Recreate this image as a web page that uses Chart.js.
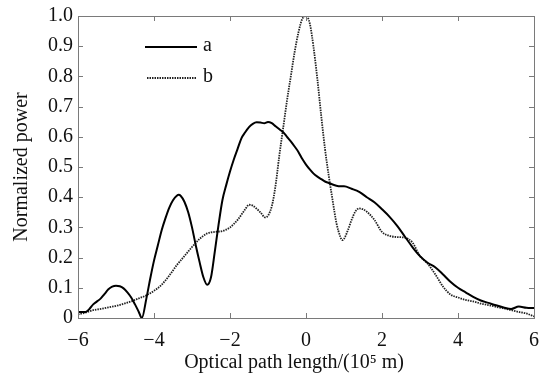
<!DOCTYPE html>
<html>
<head>
<meta charset="utf-8">
<script src="https://cdn.jsdelivr.net/npm/chart.js@4"></script>
<style>
  html, body { margin: 0; padding: 0; background: #fff; }
  #wrap { width: 547px; height: 377px; }
</style>
</head>
<body>
<div id="wrap"><canvas id="chart" width="547" height="377"></canvas></div>
<script>
// curve a (solid)
const aX = [-6.0, -5.8, -5.7, -5.6, -5.5, -5.4, -5.3, -5.2, -5.1, -5.0, -4.9, -4.8, -4.7, -4.6, -4.5, -4.4, -4.32,
  -4.2, -4.1, -4.0, -3.9, -3.8, -3.7, -3.6, -3.5, -3.4, -3.35, -3.3, -3.2, -3.1, -3.0, -2.9, -2.8, -2.7, -2.6,
  -2.5, -2.4, -2.3, -2.2, -2.1, -2.0, -1.9, -1.8, -1.7, -1.6, -1.5, -1.4, -1.3, -1.2, -1.1, -1.0, -0.9, -0.8,
  -0.7, -0.6, -0.5, -0.4, -0.3, -0.2, -0.1, 0.0, 0.1, 0.2, 0.3, 0.4, 0.5, 0.6, 0.7, 0.8, 0.9, 1.0, 1.2, 1.4,
  1.6, 1.8, 2.0, 2.2, 2.4, 2.6, 2.8, 3.0, 3.2, 3.4, 3.6, 3.8, 4.0, 4.2, 4.4, 4.6, 4.8, 5.0, 5.2, 5.4, 5.6, 5.8, 6.0];
const aY = [0.02, 0.02, 0.03, 0.045, 0.055, 0.065, 0.08, 0.095, 0.104, 0.107, 0.105, 0.098, 0.085, 0.068, 0.045, 0.02, 0.0,
  0.065, 0.13, 0.19, 0.24, 0.29, 0.33, 0.365, 0.39, 0.405, 0.408, 0.405, 0.385, 0.35, 0.30, 0.24, 0.185, 0.135, 0.11,
  0.135, 0.22, 0.31, 0.39, 0.44, 0.485, 0.525, 0.56, 0.595, 0.615, 0.632, 0.643, 0.648, 0.647, 0.645, 0.649, 0.645, 0.635,
  0.625, 0.615, 0.6, 0.585, 0.568, 0.55, 0.527, 0.508, 0.492, 0.478, 0.468, 0.46, 0.452, 0.447, 0.442, 0.438, 0.436, 0.436, 0.428, 0.418,
  0.4, 0.383, 0.36, 0.335, 0.305, 0.27, 0.235, 0.205, 0.183, 0.168, 0.145, 0.12, 0.1, 0.085, 0.07, 0.058, 0.05, 0.042, 0.035, 0.03, 0.038, 0.034, 0.033];

// curve b (dotted)
const bX = [-6.0, -5.8, -5.6, -5.4, -5.2, -5.0, -4.8, -4.6, -4.4, -4.2, -4.0, -3.8, -3.6, -3.4, -3.2, -3.0, -2.8, -2.6,
  -2.4, -2.2, -2.0, -1.8, -1.6, -1.5, -1.4, -1.3, -1.2, -1.07, -0.9, -0.8, -0.7, -0.6, -0.5, -0.4, -0.3, -0.2, -0.1, 0.0,
  0.1, 0.2, 0.3, 0.4, 0.5, 0.6, 0.7, 0.8, 0.9, 0.95, 1.0, 1.1, 1.2, 1.3, 1.4, 1.5, 1.6, 1.8, 2.0, 2.2, 2.4, 2.6, 2.8,
  3.0, 3.2, 3.4, 3.6, 3.8, 4.0, 4.2, 4.4, 4.6, 4.8, 5.0, 5.2, 5.4, 5.6, 5.8, 6.0];
const bY = [0.012, 0.018, 0.026, 0.03, 0.035, 0.04, 0.047, 0.055, 0.065, 0.075, 0.09, 0.11, 0.14, 0.175, 0.205, 0.235, 0.262, 0.28,
  0.285, 0.288, 0.30, 0.325, 0.36, 0.375, 0.372, 0.362, 0.35, 0.333, 0.37, 0.44, 0.54, 0.63, 0.72, 0.80, 0.88, 0.945, 0.99, 1.0,
  0.975, 0.895, 0.79, 0.67, 0.56, 0.47, 0.39, 0.315, 0.27, 0.258, 0.262, 0.29, 0.325, 0.353, 0.363, 0.36, 0.352, 0.325, 0.285, 0.272, 0.268, 0.266, 0.25,
  0.205, 0.18, 0.145, 0.105, 0.078, 0.068, 0.06, 0.055, 0.048, 0.043, 0.037, 0.032, 0.026, 0.02, 0.015, 0.005];

const xTicks = [-6, -4, -2, 0, 2, 4, 6];
const yTicks = [0, 0.1, 0.2, 0.3, 0.4, 0.5, 0.6, 0.7, 0.8, 0.9, 1.0];
const seriesNames = ['a', 'b'];
const xTitle = 'Optical path length/(10\u2075 m)';

const FONT = "'Liberation Serif', 'Times New Roman', serif";
const toPts = (xs, ys) => xs.map((x, i) => ({ x, y: ys[i] }));

// frame + inward ticks on all four sides
const framePlugin = {
  id: 'frame',
  afterDatasetsDraw(chart) {
    const { ctx, chartArea: ca, scales } = chart;
    ctx.save();
    ctx.strokeStyle = '#7a7a7a';
    ctx.lineWidth = 1;
    ctx.strokeRect(ca.left + 0.5, ca.top + 0.5, ca.right - ca.left, ca.bottom - ca.top);
    const len = 5;
    ctx.beginPath();
    xTicks.forEach(v => {
      const px = Math.round(scales.x.getPixelForValue(v)) + 0.5;
      ctx.moveTo(px, ca.bottom); ctx.lineTo(px, ca.bottom - len);
      ctx.moveTo(px, ca.top); ctx.lineTo(px, ca.top + len);
    });
    yTicks.forEach(v => {
      const py = Math.round(scales.y.getPixelForValue(v)) + 0.5;
      ctx.moveTo(ca.left, py); ctx.lineTo(ca.left + len, py);
      ctx.moveTo(ca.right, py); ctx.lineTo(ca.right - len, py);
    });
    ctx.stroke();
    // x axis title, sits a little left of centre in the original
    ctx.fillStyle = '#111';
    ctx.font = '20px ' + FONT;
    ctx.textAlign = 'center';
    ctx.textBaseline = 'alphabetic';
    ctx.fillText(xTitle, (ca.left + ca.right) / 2 - 12, 368);
    ctx.restore();
  }
};

// legend inside the plot, top left
const legendPlugin = {
  id: 'innerLegend',
  afterDatasetsDraw(chart) {
    const { ctx } = chart;
    const rows = [{ x0: 145, x1: 197, y: 47 }, { x0: 147, x1: 197, y: 78 }];
    ctx.save();
    chart.data.datasets.forEach((ds, i) => {
      const r = rows[i];
      ctx.strokeStyle = ds.borderColor;
      ctx.lineWidth = ds.borderWidth;
      ctx.setLineDash(ds.borderDash || []);
      ctx.beginPath();
      ctx.moveTo(r.x0, r.y); ctx.lineTo(r.x1, r.y);
      ctx.stroke();
      ctx.setLineDash([]);
      ctx.fillStyle = '#111';
      ctx.font = '20px ' + FONT;
      ctx.textBaseline = 'middle';
      ctx.fillText(ds.label, r.x1 + 6, r.y - 1);
    });
    ctx.restore();
  }
};

new Chart(document.getElementById('chart'), {
  type: 'line',
  data: {
    datasets: [
      { label: seriesNames[0], data: toPts(aX, aY), borderColor: '#000', borderWidth: 2,
        pointRadius: 0, cubicInterpolationMode: 'monotone', fill: false },
      { label: seriesNames[1], data: toPts(bX, bY), borderColor: '#222', borderWidth: 1.8, borderDash: [1.5, 1],
        pointRadius: 0, cubicInterpolationMode: 'monotone', fill: false }
    ]
  },
  options: {
    responsive: false,
    animation: false,
    events: [],
    layout: { padding: { top: 16, right: 13, left: 0, bottom: 0 } },
    plugins: { legend: { display: false }, tooltip: { enabled: false } },
    scales: {
      x: {
        type: 'linear', min: -6, max: 6,
        afterBuildTicks: s => { s.ticks = xTicks.map(v => ({ value: v })); },
        afterFit: s => { s.height = 59; s.paddingLeft = 0; s.paddingRight = 0; },
        grid: { display: false, drawTicks: false },
        border: { display: false },
        ticks: { color: '#111', padding: 11, maxRotation: 0, font: { family: FONT, size: 20 },
          callback: v => (v < 0 ? '\u2212' + Math.abs(v) : String(v)) },
        title: { display: false }
      },
      y: {
        min: 0, max: 1,
        afterBuildTicks: s => { s.ticks = yTicks.map(v => ({ value: v })); },
        afterFit: s => { s.width = 78; s.paddingTop = 0; s.paddingBottom = 0; },
        grid: { display: false, drawTicks: false },
        border: { display: false },
        ticks: { color: '#111', padding: 5, font: { family: FONT, size: 20 },
          callback: v => (v === 0 ? '0' : v.toFixed(1)) },
        title: { display: true, text: 'Normalized power', color: '#111',
          font: { family: FONT, size: 20 }, padding: { top: 10, bottom: 0 } }
      }
    }
  },
  plugins: [framePlugin, legendPlugin]
});
</script>
</body>
</html>
